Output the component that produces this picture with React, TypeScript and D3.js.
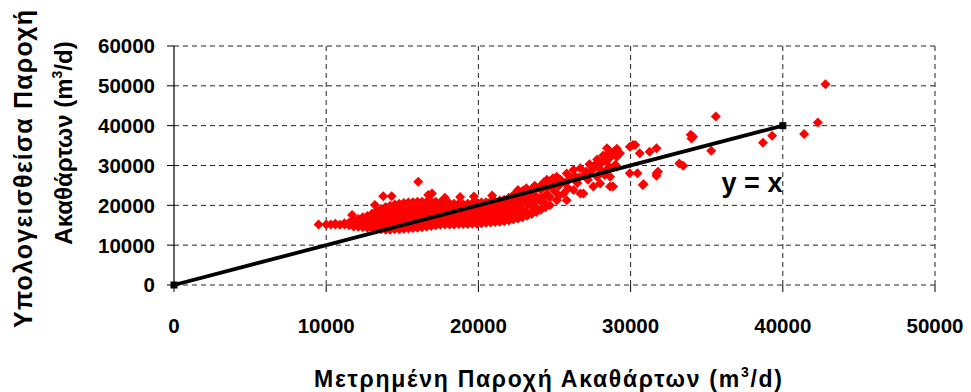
import { useEffect, useRef } from "react";
import * as d3 from "d3";

// axis ticks
const X_TICKS = [0, 10000, 20000, 30000, 40000, 50000];
const Y_TICKS = [0, 10000, 20000, 30000, 40000, 50000, 60000];

// y = x reference line end points
const LINE_X = [0, 40000];
const LINE_Y = [0, 40000];

// dense part of the cloud, read column by column: [measured, computed values]
const BAND: [number, number[]][] = [
  [10000, [15200]],
  [10300, [15200]],
  [10600, [15200, 15400]],
  [10900, [15100]],
  [11200, [15200, 15500]],
  [11500, [15000, 15600]],
  [11800, [14700, 15600, 16400]],
  [12100, [14600, 15500, 16600]],
  [12400, [14500, 15400, 16400, 17000]],
  [12700, [14400, 15300, 16300, 17300]],
  [13000, [14300, 15200, 16200, 17200, 17900]],
  [13300, [14200, 15100, 16100, 17100, 18100, 18600]],
  [13600, [14000, 15000, 16000, 17000, 18000, 19100]],
  [13900, [13900, 14900, 15900, 16900, 17900, 18900, 19600]],
  [14200, [13900, 14800, 15800, 16800, 17800, 18800, 19900]],
  [14500, [14000, 15000, 16000, 17000, 18000, 19000, 20200]],
  [14800, [14000, 14900, 15900, 16900, 17900, 18900, 20400]],
  [15100, [14100, 15100, 16100, 17100, 18100, 19100, 20600]],
  [15400, [14200, 15000, 16000, 17000, 18000, 19000, 20700]],
  [15700, [14300, 15200, 16200, 17200, 18200, 19200, 20800]],
  [16000, [14400, 15300, 16300, 17300, 18300, 19300, 20900]],
  [16300, [14500, 15400, 16400, 17400, 18400, 19400, 20900]],
  [16600, [14600, 15500, 16500, 17500, 18500, 19500, 20900]],
  [16900, [14800, 15700, 16700, 17700, 18700, 19700, 20900]],
  [17200, [15000, 15900, 16900, 17900, 18900, 19900, 20900]],
  [17500, [15100, 16000, 17000, 18000, 19000, 20000, 20800]],
  [17800, [15200, 16100, 17100, 18100, 19100, 20600]],
  [18100, [15200, 16200, 17200, 18200, 19200, 20500]],
  [18400, [15200, 16100, 17100, 18100, 19100, 20400]],
  [18700, [15300, 16200, 17200, 18200, 19200, 20400]],
  [19000, [15300, 16300, 17300, 18300, 19300, 20300]],
  [19300, [15300, 16200, 17200, 18200, 19200, 20400]],
  [19600, [15400, 16300, 17300, 18300, 19300, 20500]],
  [19900, [15400, 16400, 17400, 18400, 19400, 20600]],
  [20200, [15500, 16500, 17500, 18500, 19500, 20700]],
  [20500, [15600, 16600, 17600, 18600, 19600, 20800]],
  [20800, [15700, 16700, 17700, 18700, 19700, 20900]],
  [21100, [15800, 16800, 17800, 18800, 19800, 21000]],
  [21400, [15900, 16900, 17900, 18900, 19900, 21200]],
  [21700, [16000, 17000, 18000, 19000, 20000, 21400]],
  [22000, [16200, 17200, 18200, 19200, 20200, 21200, 21900]],
  [22300, [16500, 17500, 18500, 19500, 20500, 21500, 22600]],
  [22600, [16700, 17700, 19700, 20700, 21700, 23200]],
  [22900, [17000, 18000, 19000, 21000, 22000, 23600]],
  [23200, [17400, 18400, 20400, 21400, 22400, 23800]],
  [23500, [17800, 19800, 20800, 22800, 24000]],
  [23800, [18300, 19300, 21300, 22300, 24400]],
  [24100, [18900, 20900, 21900, 23900, 25000]],
  [24400, [19500, 20500, 22500, 25500]],
  [24700, [20000, 22000, 25000, 26000]],
];

// scattered points outside the dense band: [measured, computed]
const SPARSE: [number, number][] = [
  [9500, 15200], [11700, 17600], [13200, 20100], [13750, 22300], [14300, 22300],
  [16050, 25900], [16700, 22600], [16950, 23000], [17800, 21900], [18800, 22100],
  [19700, 22200], [20900, 22500], [22600, 23850], [23150, 24300], [23700, 24900],
  [24500, 24300], [24500, 26400], [24900, 26800], [25150, 27200], [25400, 26400],
  [25800, 28000], [26250, 28900], [26700, 29300], [27100, 28500], [24900, 24700],
  [25600, 23000], [26250, 23850], [26900, 23000], [27550, 24700], [25800, 21300],
  [26700, 23000], [25150, 21300], [24300, 25800], [24700, 25300], [25000, 25900],
  [25300, 25000], [25700, 25600], [26000, 26600], [26300, 27400], [26600, 27000],
  [27000, 27800], [27300, 28200], [26500, 25600], [27200, 26400], [25900, 24300],
  [24600, 22500], [25000, 23600], [25300, 22400], [27600, 29400], [28000, 29000],
  [27800, 27200], [28300, 28400], [29000, 30200], [28600, 29600], [27750, 30500],
  [28400, 31000], [29100, 29700], [27300, 30300], [28100, 30700], [28000, 25500],
  [28650, 27200], [28850, 24700], [28650, 24700], [28300, 27600], [27800, 31500],
  [28200, 32500], [28500, 33000], [28900, 33500], [29100, 34200], [28600, 31800],
  [28450, 34300], [28750, 33100], [29100, 32200], [29300, 33100], [29950, 34700],
  [30600, 33050], [31250, 33450], [31700, 34300], [30150, 35150], [30300, 35150],
  [29950, 28050], [30450, 28050], [30850, 25300], [31700, 28000], [31800, 28400],
  [31700, 27400], [30800, 25100], [33200, 30500], [33450, 29950], [33950, 37700],
  [34100, 37200], [34000, 36800], [35600, 42300], [35300, 33700], [38700, 35700],
  [39300, 37500], [41400, 37900], [42300, 40800], [42800, 50400],
];

const FONT = "'Liberation Sans', Arial, sans-serif";

export default function App() {
  const ref = useRef<SVGSVGElement>(null);

  useEffect(() => {
    if (!ref.current) return;
    const svg = d3.select(ref.current);
    svg.selectAll("*").remove();

    const W = 971;
    const H = 392;
    const m = { top: 46, right: 36, bottom: 107, left: 174 };
    const x = d3.scaleLinear().domain([0, 50000]).range([m.left, W - m.right]);
    const y = d3.scaleLinear().domain([0, 60000]).range([H - m.bottom, m.top]);
    const [x0, x1] = x.range();
    const [y0, y1] = y.range();

    svg.attr("width", W).attr("height", H);
    svg.append("rect").attr("width", W).attr("height", H).attr("fill", "#fff");

    // Grid (dashed)
    const dash = "5,4";
    svg.append("g")
      .selectAll("line")
      .data(Y_TICKS)
      .join("line")
      .attr("x1", x0)
      .attr("x2", x1)
      .attr("y1", (d) => y(d))
      .attr("y2", (d) => y(d))
      .attr("stroke", "#222")
      .attr("stroke-dasharray", dash);
    svg.append("g")
      .selectAll("line")
      .data(X_TICKS.slice(1))
      .join("line")
      .attr("x1", (d) => x(d))
      .attr("x2", (d) => x(d))
      .attr("y1", y0)
      .attr("y2", y1)
      .attr("stroke", "#222")
      .attr("stroke-dasharray", dash);

    // Left axis with ticks
    svg.append("line")
      .attr("x1", x0).attr("x2", x0).attr("y1", y0).attr("y2", y1)
      .attr("stroke", "#000").attr("stroke-width", 1.2);
    svg.append("g")
      .selectAll("line")
      .data(Y_TICKS)
      .join("line")
      .attr("x1", x0 - 7).attr("x2", x0)
      .attr("y1", (d) => y(d)).attr("y2", (d) => y(d))
      .attr("stroke", "#000");
    // bottom ticks
    svg.append("g")
      .selectAll("line")
      .data(X_TICKS)
      .join("line")
      .attr("x1", (d) => x(d)).attr("x2", (d) => x(d))
      .attr("y1", y0).attr("y2", y0 + 7)
      .attr("stroke", "#000");

    // Tick labels
    svg.append("g")
      .selectAll("text")
      .data(Y_TICKS)
      .join("text")
      .attr("x", x0 - 19)
      .attr("y", (d) => y(d))
      .attr("dy", "0.36em")
      .attr("text-anchor", "end")
      .attr("font-family", FONT)
      .attr("font-weight", "bold")
      .attr("font-size", 20.5)
      .text((d) => String(d));
    svg.append("g")
      .selectAll("text")
      .data(X_TICKS)
      .join("text")
      .attr("x", (d) => x(d))
      .attr("y", y0 + 48)
      .attr("text-anchor", "middle")
      .attr("font-family", FONT)
      .attr("font-weight", "bold")
      .attr("font-size", 20.5)
      .text((d) => String(d));

    // Scatter (red diamonds)
    const pts: [number, number][] = [
      ...BAND.flatMap(([mx, ys]) => ys.map((v) => [mx, v] as [number, number])),
      ...SPARSE,
    ];
    const r = 5;
    const diamond = `M0,${-r}L${r},0L0,${r}L${-r},0Z`;
    svg.append("g")
      .selectAll("path")
      .data(pts)
      .join("path")
      .attr("d", diamond)
      .attr("transform", (d) => `translate(${x(d[0])},${y(d[1])})`)
      .attr("fill", "#ff0000");

    // y = x line
    const lineData = LINE_X.map((v, i) => [v, LINE_Y[i]] as [number, number]);
    svg.append("path")
      .datum(lineData)
      .attr("d", d3.line<[number, number]>().x((d) => x(d[0])).y((d) => y(d[1])))
      .attr("stroke", "#000")
      .attr("stroke-width", 3.8)
      .attr("fill", "none");
    svg.append("g")
      .selectAll("rect")
      .data(lineData)
      .join("rect")
      .attr("x", (d) => x(d[0]) - 3.5)
      .attr("y", (d) => y(d[1]) - 3.5)
      .attr("width", 7)
      .attr("height", 7)
      .attr("fill", "#000");

    svg.append("text")
      .attr("x", 752)
      .attr("y", 192)
      .attr("text-anchor", "middle")
      .attr("font-family", FONT)
      .attr("font-weight", "bold")
      .attr("font-size", 27)
      .text("y = x");

    // X title
    const xt = svg.append("text")
      .attr("x", 548)
      .attr("y", 387)
      .attr("text-anchor", "middle")
      .attr("font-family", FONT)
      .attr("font-weight", "bold")
      .attr("font-size", 23)
      .attr("textLength", 468)
      .attr("lengthAdjust", "spacing");
    xt.append("tspan").text("Μετρημένη Παροχή Ακαθάρτων (m");
    xt.append("tspan").attr("font-size", 14).attr("dy", -10).text("3");
    xt.append("tspan").attr("dy", 10).text("/d)");

    // Y title, two lines
    svg.append("text")
      .attr("transform", "translate(32,169) rotate(-90)")
      .attr("text-anchor", "middle")
      .attr("font-family", FONT)
      .attr("font-weight", "bold")
      .attr("font-size", 25)
      .attr("textLength", 318)
      .attr("lengthAdjust", "spacing")
      .text("Υπολογεισθείσα Παροχή");
    const yt = svg.append("text")
      .attr("transform", "translate(72,143) rotate(-90)")
      .attr("text-anchor", "middle")
      .attr("font-family", FONT)
      .attr("font-weight", "bold")
      .attr("font-size", 24);
    yt.append("tspan").text("Ακαθάρτων (m");
    yt.append("tspan").attr("font-size", 14).attr("dy", -10).text("3");
    yt.append("tspan").attr("dy", 10).text("/d)");
  }, []);

  return (
    <div style={{ position: "absolute", left: 0, top: 0 }}>
      <svg ref={ref} style={{ display: "block" }} />
    </div>
  );
}
